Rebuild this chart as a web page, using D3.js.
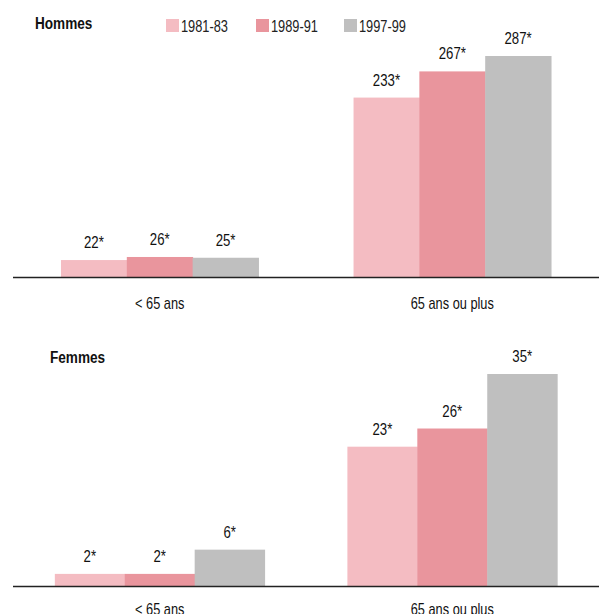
<html>
    <head>
        <script src="https://d3js.org/d3.v7.min.js"></script>
        <style>
            body { margin: 0; background: #fff; }
            svg { font-family: "Liberation Sans", Arial, sans-serif; }
            .value { font-size: 16.5px; fill: #111; }
            .cat { font-size: 16px; fill: #111; }
            .title { font-size: 17px; font-weight: bold; fill: #111; }
            .legend text { font-size: 16px; fill: #222; }
        </style>
    </head>
    <body>
        <div id="chart"></div>
    </body>
<script>
    var categories = ["< 65 ans", "65 ans ou plus"]
    var periods = ["1981-83", "1989-91", "1997-99"]
    var colors = ["#f4bcc2", "#e9959d", "#bfbfbf"]

    // valeurs par catégorie, une entrée par période
    var hommes = [[22, 26, 25], [233, 267, 287]]
    var femmes = [[2, 2, 6], [23, 26, 35]]
    var labelsHommes = [["22*", "26*", "25*"], ["233*", "267*", "287*"]]
    var labelsFemmes = [["2*", "2*", "6*"], ["23*", "26*", "35*"]]

    var width = 599, height = 614
    var narrow = 0.8 // pas d'Arial Narrow installée : on comprime le texte

    var svg = d3.select("#chart").append("svg")
        .attr("width", width)
        .attr("height", height)

    function at(x, y) {
        return `translate(${x},${y}) scale(${narrow},1)`
    }

    function panel(opts) {
        var g = svg.append("g")

        var x0 = d3.scaleBand()
            .domain(categories)
            .range([13, 599])
            .paddingInner(opts.padInner)
            .paddingOuter(opts.padOuter)

        var x1 = d3.scaleBand()
            .domain(periods)
            .range([0, x0.bandwidth()])

        var y = d3.scaleLinear()
            .domain([0, opts.max])
            .range([opts.base, opts.top])

        var groups = g.selectAll("g.group")
            .data(categories)
            .join("g")
                .attr("class", "group")
                .attr("transform", d => `translate(${x0(d)},0)`)

        var rows = (d, i) => opts.values[i].map((v, j) => ({period: periods[j], value: v, label: opts.labels[i][j], k: j}))

        groups.selectAll("rect")
            .data(rows)
            .join("rect")
                .attr("x", d => x1(d.period))
                .attr("y", d => y(d.value))
                .attr("width", x1.bandwidth() + 0.5)
                .attr("height", d => y(0) - y(d.value))
                .attr("fill", d => colors[d.k])

        groups.selectAll("text.value")
            .data(rows)
            .join("text")
                .attr("class", "value")
                .attr("transform", d => at(x1(d.period) + x1.bandwidth() / 2, y(d.value) - 12))
                .attr("text-anchor", "middle")
                .text(d => d.label)

        g.append("line")
            .attr("x1", 13).attr("x2", 599)
            .attr("y1", opts.base + 0.5).attr("y2", opts.base + 0.5)
            .attr("stroke", "#222")
            .attr("stroke-width", 1.3)

        g.selectAll("text.cat")
            .data(categories)
            .join("text")
                .attr("class", "cat")
                .attr("transform", d => at(x0(d) + x0.bandwidth() / 2, opts.catY))
                .attr("text-anchor", "middle")
                .text(d => d)

        g.append("text")
            .attr("class", "title")
            .attr("transform", at(opts.titleX, opts.titleY))
            .text(opts.title)
    }

    panel({title: "Hommes", titleX: 35, titleY: 29, values: hommes, labels: labelsHommes,
        max: 287, base: 277, top: 56, catY: 309, padInner: 0.325, padOuter: 0.164})
    panel({title: "Femmes", titleX: 50, titleY: 363, values: femmes, labels: labelsFemmes,
        max: 35, base: 586, top: 374, catY: 615, padInner: 0.283, padOuter: 0.143})

    // légende
    var legendX = [166, 256, 344]
    var legend = svg.append("g").attr("class", "legend")
        .selectAll("g")
        .data(periods)
        .join("g")
            .attr("transform", (d, i) => `translate(${legendX[i]},19)`)
    legend.append("rect")
        .attr("width", 13).attr("height", 13)
        .attr("fill", (d, i) => colors[i])
    legend.append("text")
        .attr("transform", at(15, 13))
        .text(d => d)
</script>
</html>
